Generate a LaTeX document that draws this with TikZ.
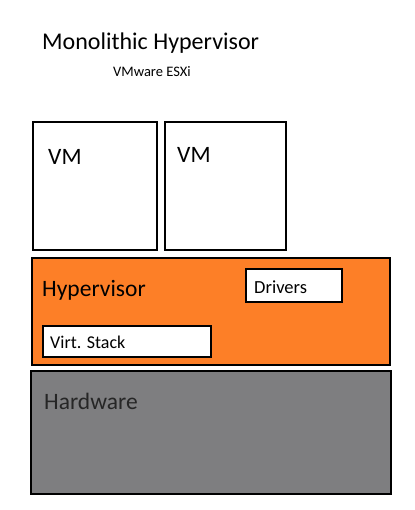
\documentclass[tikz,border=0pt]{standalone}
\usepackage{fontspec}
\setmainfont{Carlito}
\definecolor{hvorange}{RGB}{253,127,39}
\definecolor{hwgray}{RGB}{126,126,128}
\begin{document}
\begin{tikzpicture}[x=1pt,y=-1pt,
  box/.style={draw=black,line width=1.2pt},
  lbl/.style={anchor=west,inner sep=0pt}]
\useasboundingbox (0,0) rectangle (414,510);
\node[lbl,font=\fontsize{24}{28}\selectfont] (title) at (42,43) {Monolithic Hypervisor};
\node[lbl,font=\fontsize{14.5}{17}\selectfont] (sub) at (113,72) {VMware ESXi};
\draw[box,fill=white] (33,122) rectangle (157,250);
\node[lbl,font=\fontsize{23.5}{28}\selectfont] (vm1) at (48,157) {VM};
\draw[box,fill=white] (165,122) rectangle (286,250);
\node[lbl,font=\fontsize{23.5}{28}\selectfont] (vm2) at (177,155) {VM};
\draw[box,fill=hvorange] (32,258) rectangle (390,365);
\node[lbl,font=\fontsize{23.5}{28}\selectfont] (hv) at (42,290) {Hypervisor};
\draw[box,fill=white] (246,269) rectangle (342,302);
\node[lbl,font=\fontsize{18.5}{22}\selectfont] (drv) at (254,287) {Drivers};
\draw[box,fill=white] (43,326) rectangle (211,357);
\node[lbl,font=\fontsize{18}{22}\selectfont] (vs) at (50,342) {Virt. Stack};
\draw[box,fill=hwgray] (31,371) rectangle (391,494);
\node[lbl,font=\fontsize{23.5}{28}\selectfont,text=black!85] (hw) at (44,401) {Hardware};
\end{tikzpicture}
\end{document}
